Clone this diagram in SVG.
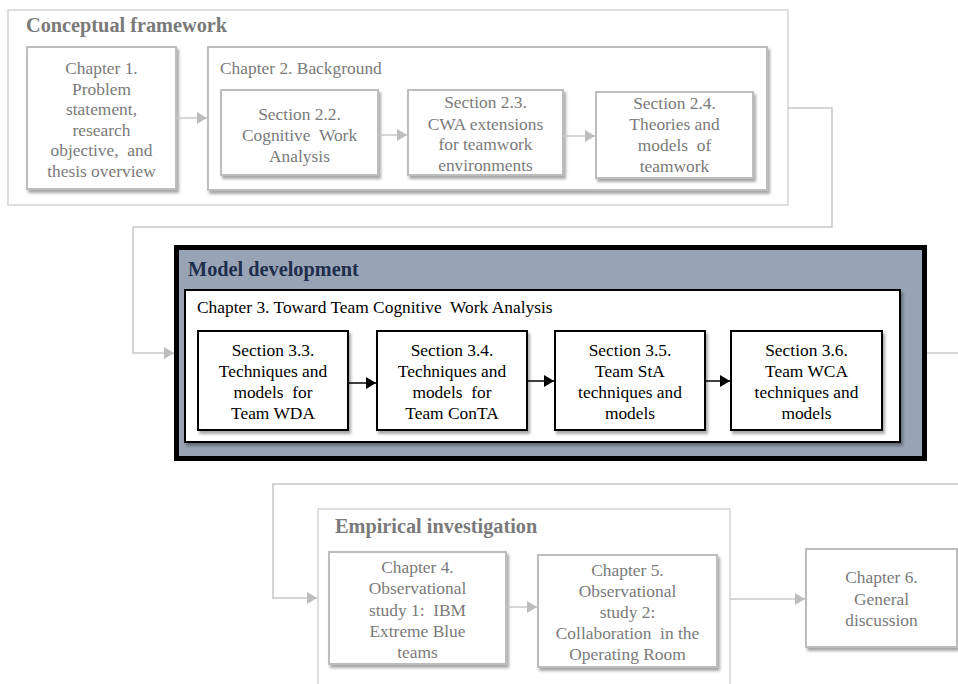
<svg xmlns="http://www.w3.org/2000/svg" width="958" height="684" viewBox="0 0 958 684" font-family="'Liberation Serif', 'Times New Roman', serif">
  <defs>
    <filter id="shadow" x="-10%" y="-10%" width="130%" height="130%">
      <feGaussianBlur in="SourceAlpha" stdDeviation="1.6"/>
      <feOffset dx="2" dy="3" result="off"/>
      <feComponentTransfer><feFuncA type="linear" slope="0.35"/></feComponentTransfer>
      <feMerge><feMergeNode/><feMergeNode in="SourceGraphic"/></feMerge>
    </filter>
    <marker id="arrGray" viewBox="0 0 10 12" refX="10" refY="6" markerWidth="10" markerHeight="12" markerUnits="userSpaceOnUse" orient="auto">
      <path d="M0,0 L10,6 L0,12 Z" fill="#BDBDBD"/>
    </marker>
    <marker id="arrBlack" viewBox="0 0 10 12" refX="10" refY="6" markerWidth="10" markerHeight="12" markerUnits="userSpaceOnUse" orient="auto">
      <path d="M0,0 L10,6 L0,12 Z" fill="#000"/>
    </marker>
  </defs>
  <style>
    text { font-family: "Liberation Serif", "Times New Roman", serif; white-space: pre; }
    .gt { fill: #7A7A7A; font-size: 17.4px; text-anchor: middle; }
    .gl { fill: #7A7A7A; font-size: 17.4px; }
    .bt { fill: #000; font-size: 17.4px; text-anchor: middle; }
    .title { font-weight: bold; font-size: 20.3px; fill: #7A7A7A; }
    .frame { fill: #fff; stroke: #D4D4D4; stroke-width: 1.5; }
    .gbox { fill: #fff; stroke: #BDBDBD; stroke-width: 2; filter: url(#shadow); }
    .kbox { fill: #fff; stroke: #000; stroke-width: 2; filter: url(#shadow); }
    .gline { fill: none; stroke: #C8C8C8; stroke-width: 1.5; }
    .garr { fill: none; stroke: #C8C8C8; stroke-width: 1.5; marker-end: url(#arrGray); }
    .karr { fill: none; stroke: #000; stroke-width: 1.5; marker-end: url(#arrBlack); }
  </style>
  <rect width="958" height="684" fill="#fff"/>

  <!-- Conceptual framework -->
  <g id="conceptual-framework">
    <rect class="frame" x="8" y="10" width="780" height="195"/>
    <text class="title" x="26" y="32">Conceptual framework</text>
  </g>
  <g id="chapter1">
    <rect class="gbox" x="27" y="47" width="149" height="142"/>
    <text class="gt" x="101.5" y="74">Chapter 1.</text>
    <text class="gt" x="101.5" y="94.5">Problem</text>
    <text class="gt" x="101.5" y="115">statement,</text>
    <text class="gt" x="101.5" y="135.5">research</text>
    <text class="gt" x="101.5" y="156">objective,  and</text>
    <text class="gt" x="101.5" y="176.5">thesis overview</text>
  </g>
  <g id="chapter2">
    <rect class="gbox" x="208" y="47" width="559" height="143"/>
    <text class="gl" x="220" y="74">Chapter 2. Background</text>
  </g>
  <g id="section2-2">
    <rect class="gbox" x="221" y="90" width="157" height="85"/>
    <text class="gt" x="299.5" y="120">Section 2.2.</text>
    <text class="gt" x="299.5" y="141">Cognitive  Work</text>
    <text class="gt" x="299.5" y="162">Analysis</text>
  </g>
  <g id="section2-3">
    <rect class="gbox" x="408" y="90" width="155" height="85"/>
    <text class="gt" x="485.5" y="108">Section 2.3.</text>
    <text class="gt" x="485.5" y="129.5">CWA extensions</text>
    <text class="gt" x="485.5" y="150">for teamwork</text>
    <text class="gt" x="485.5" y="170.5">environments</text>
  </g>
  <g id="section2-4">
    <rect class="gbox" x="596" y="92" width="157" height="86"/>
    <text class="gt" x="674.5" y="109">Section 2.4.</text>
    <text class="gt" x="674.5" y="130">Theories and</text>
    <text class="gt" x="674.5" y="151">models  of</text>
    <text class="gt" x="674.5" y="172">teamwork</text>
  </g>

  <!-- Model development -->
  <g id="model-development">
    <rect x="176.5" y="247.5" width="748" height="211" fill="#98A4B5" stroke="#000" stroke-width="5"/>
    <text x="188" y="276" font-weight="bold" font-size="20.3px" fill="#1F2E4C">Model development</text>
  </g>
  <g id="chapter3">
    <rect class="kbox" x="185" y="290" width="715" height="152"/>
    <text x="197" y="313" font-size="17.4px" fill="#000">Chapter 3. Toward Team Cognitive  Work Analysis</text>
  </g>
  <g id="section3-3">
    <rect class="kbox" x="198" y="331" width="150" height="99"/>
    <text class="bt" x="273" y="356">Section 3.3.</text>
    <text class="bt" x="273" y="377">Techniques and</text>
    <text class="bt" x="273" y="398">models  for</text>
    <text class="bt" x="273" y="419">Team WDA</text>
  </g>
  <g id="section3-4">
    <rect class="kbox" x="377" y="331" width="150" height="99"/>
    <text class="bt" x="452" y="356">Section 3.4.</text>
    <text class="bt" x="452" y="377">Techniques and</text>
    <text class="bt" x="452" y="398">models  for</text>
    <text class="bt" x="452" y="419">Team ConTA</text>
  </g>
  <g id="section3-5">
    <rect class="kbox" x="555" y="331" width="150" height="99"/>
    <text class="bt" x="630" y="356">Section 3.5.</text>
    <text class="bt" x="630" y="377">Team StA</text>
    <text class="bt" x="630" y="398">techniques and</text>
    <text class="bt" x="630" y="419">models</text>
  </g>
  <g id="section3-6">
    <rect class="kbox" x="731" y="331" width="151" height="99"/>
    <text class="bt" x="806.5" y="356">Section 3.6.</text>
    <text class="bt" x="806.5" y="377">Team WCA</text>
    <text class="bt" x="806.5" y="398">techniques and</text>
    <text class="bt" x="806.5" y="419">models</text>
  </g>

  <!-- Empirical investigation -->
  <g id="empirical-investigation">
    <rect class="frame" x="318" y="509" width="412" height="190"/>
    <text class="title" x="335" y="533">Empirical investigation</text>
  </g>
  <g id="chapter4">
    <rect class="gbox" x="329" y="552" width="177" height="112"/>
    <text class="gt" x="417.5" y="573">Chapter 4.</text>
    <text class="gt" x="417.5" y="594">Observational</text>
    <text class="gt" x="417.5" y="615.5">study 1:  IBM</text>
    <text class="gt" x="417.5" y="636.5">Extreme Blue</text>
    <text class="gt" x="417.5" y="657.5">teams</text>
  </g>
  <g id="chapter5">
    <rect class="gbox" x="538" y="555" width="179" height="112"/>
    <text class="gt" x="627.5" y="575.5">Chapter 5.</text>
    <text class="gt" x="627.5" y="596.5">Observational</text>
    <text class="gt" x="627.5" y="617.5">study 2:</text>
    <text class="gt" x="627.5" y="638.5">Collaboration  in the</text>
    <text class="gt" x="627.5" y="659.5">Operating Room</text>
  </g>
  <g id="chapter6">
    <rect class="gbox" x="806" y="549" width="151" height="98"/>
    <text class="gt" x="881.5" y="583">Chapter 6.</text>
    <text class="gt" x="881.5" y="605">General</text>
    <text class="gt" x="881.5" y="626">discussion</text>
  </g>

  <!-- Connectors -->
  <g id="connectors">
    <path class="garr" d="M176,118 H207"/>
    <path class="garr" d="M378,135 H407"/>
    <path class="garr" d="M563,136 H595"/>
    <path class="garr" d="M788,108 H832 V227 H133 V353 H174"/>
    <path class="karr" d="M348,383 H376"/>
    <path class="karr" d="M527,381 H554"/>
    <path class="karr" d="M705,381 H730"/>
    <path class="gline" d="M927,353 H958"/>
    <path class="garr" d="M958,484 H273 V598 H317"/>
    <path class="garr" d="M506,607 H537"/>
    <path class="garr" d="M730,599 H805"/>
  </g>
</svg>
